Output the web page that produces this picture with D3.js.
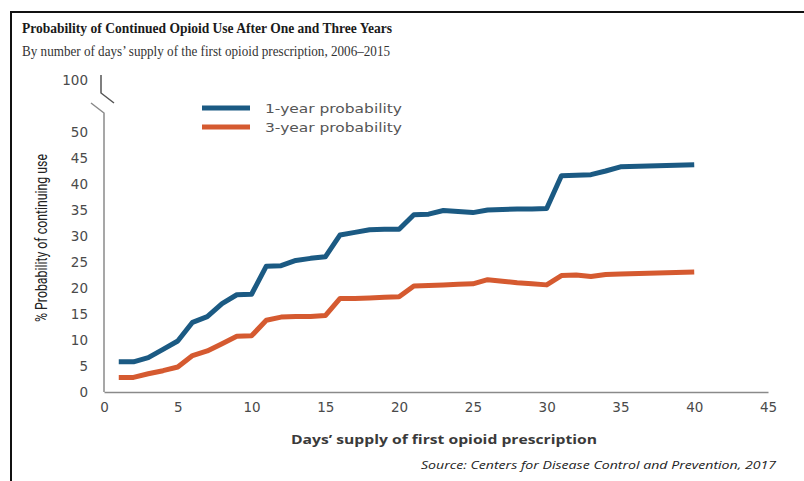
<!doctype html>
<html>
<head>
<meta charset="utf-8">
<script src="https://d3js.org/d3.v7.min.js"></script>
<style>
  body { margin: 0; background: #fff; }
  svg { display: block; }
</style>
</head>
<body>
<div id="chart"></div>
<script>
// days' supply of first prescription
const days = [1, 2, 3, 4, 5, 6, 7, 8, 9, 10, 11, 12, 13, 14, 15, 16, 17, 18, 19, 20,
  21, 22, 23, 24, 25, 26, 27, 28, 29, 30, 31, 32, 33, 34, 35, 40];
// % still using opioids after one year
const oneYear = [5.8, 5.8, 6.6, 8.2, 9.8, 13.4, 14.5, 17.0, 18.7, 18.8, 24.2, 24.3, 25.3, 25.7, 26.0, 30.2, 30.7, 31.2, 31.3, 31.3,
  34.1, 34.2, 34.9, 34.7, 34.5, 35.0, 35.1, 35.2, 35.2, 35.3, 41.6, 41.7, 41.8, 42.5, 43.3, 43.7];
// % still using opioids after three years
const threeYear = [2.8, 2.8, 3.5, 4.1, 4.8, 7.0, 7.9, 9.3, 10.7, 10.8, 13.8, 14.4, 14.5, 14.5, 14.7, 18.0, 18.0, 18.1, 18.2, 18.3,
  20.4, 20.5, 20.6, 20.7, 20.8, 21.6, 21.3, 21.0, 20.8, 20.6, 22.4, 22.5, 22.2, 22.6, 22.7, 23.1];
const seriesNames = ["1-year probability", "3-year probability"];
const xTicks = [0, 5, 10, 15, 20, 25, 30, 35, 40, 45];
const yTicks = [0, 5, 10, 15, 20, 25, 30, 35, 40, 45, 50];

const width = 804, height = 481;
const colors = ["#1b5a83", "#d55a30"];

const svg = d3.select("#chart").append("svg")
  .attr("width", width)
  .attr("height", height);

// frame (top and left edge only are visible)
svg.append("path")
  .attr("d", "M11,481 V12 H804")
  .attr("fill", "none")
  .attr("stroke", "#111")
  .attr("stroke-width", 2);

// titles
svg.append("text")
  .attr("x", 22).attr("y", 33)
  .attr("font-family", "'Liberation Serif', serif")
  .attr("font-weight", "bold")
  .attr("font-size", 14.5)
  .attr("textLength", 370)
  .attr("lengthAdjust", "spacingAndGlyphs")
  .attr("fill", "#1a1a1a")
  .text("Probability of Continued Opioid Use After One and Three Years");

svg.append("text")
  .attr("x", 22).attr("y", 56)
  .attr("font-family", "'Liberation Serif', serif")
  .attr("font-size", 14)
  .attr("textLength", 368)
  .attr("lengthAdjust", "spacingAndGlyphs")
  .attr("fill", "#333")
  .text("By number of days\u2019 supply of the first opioid prescription, 2006\u20132015");

// scales
const x = d3.scaleLinear().domain([0, 45]).range([104, 768]);
const y = d3.scaleLinear().domain([0, 50]).range([392, 132]);

const axisColor = "#8a8a8a";
const labelColor = "#4a4a4a";
const tickFont = "'DejaVu Sans', sans-serif";

// x axis
const xAxis = svg.append("g")
  .attr("transform", "translate(0," + y(0) + ")")
  .call(d3.axisBottom(x).tickValues(xTicks).tickSize(0).tickPadding(10));
xAxis.select(".domain").attr("stroke", axisColor).attr("stroke-width", 1.5);
xAxis.selectAll("text")
  .attr("font-family", tickFont)
  .attr("font-size", 13.5)
  .attr("fill", labelColor);

// y axis
const yAxis = svg.append("g")
  .attr("transform", "translate(" + x(0) + ",0)")
  .call(d3.axisLeft(y).tickValues(yTicks).tickSize(0).tickPadding(16));
yAxis.select(".domain").remove();
yAxis.selectAll("text")
  .attr("font-family", tickFont)
  .attr("font-size", 13.5)
  .attr("fill", labelColor);

// y axis line with the break up to 100
svg.append("path")
  .attr("d", "M" + x(0) + "," + y(0) + " V113 L91,103")
  .attr("fill", "none")
  .attr("stroke", axisColor)
  .attr("stroke-width", 1.5);
svg.append("path")
  .attr("d", "M101,75 V93 L114,103")
  .attr("fill", "none")
  .attr("stroke", "#555")
  .attr("stroke-width", 1.5);
svg.append("text")
  .attr("x", 88).attr("y", 85)
  .attr("text-anchor", "end")
  .attr("font-family", tickFont)
  .attr("font-size", 13.5)
  .attr("fill", labelColor)
  .text("100");

// axis titles
svg.append("text")
  .attr("transform", "translate(47,238) rotate(-90)")
  .attr("text-anchor", "middle")
  .attr("font-family", "'Liberation Sans Narrow', 'Roboto', sans-serif")
  .attr("font-size", 16)
  .attr("textLength", 168)
  .attr("lengthAdjust", "spacingAndGlyphs")
  .attr("fill", "#222")
  .text("% Probability of continuing use");

svg.append("text")
  .attr("x", 444).attr("y", 444)
  .attr("text-anchor", "middle")
  .attr("font-family", "'Open Sans', sans-serif")
  .attr("font-weight", "bold")
  .attr("font-size", 13)
  .attr("textLength", 306)
  .attr("lengthAdjust", "spacingAndGlyphs")
  .attr("fill", "#3a3a3a")
  .text("Days\u2019 supply of first opioid prescription");

svg.append("text")
  .attr("x", 776).attr("y", 469)
  .attr("text-anchor", "end")
  .attr("font-family", "'Open Sans', sans-serif")
  .attr("font-style", "italic")
  .attr("font-size", 11)
  .attr("textLength", 355)
  .attr("lengthAdjust", "spacingAndGlyphs")
  .attr("fill", "#222")
  .text("Source: Centers for Disease Control and Prevention, 2017");

// lines
const line = d3.line()
  .x(d => x(d[0]))
  .y(d => y(d[1]));

[oneYear, threeYear].forEach(function (vals, i) {
  svg.append("path")
    .datum(days.map((d, j) => [d, vals[j]]))
    .attr("d", line)
    .attr("fill", "none")
    .attr("stroke", colors[i])
    .attr("stroke-width", 5)
    .attr("stroke-linejoin", "round");
});

// legend
seriesNames.forEach(function (name, i) {
  const ly = 108 + i * 19;
  svg.append("line")
    .attr("x1", 202).attr("x2", 250)
    .attr("y1", ly).attr("y2", ly)
    .attr("stroke", colors[i])
    .attr("stroke-width", 5);
  svg.append("text")
    .attr("x", 265).attr("y", ly + 4.5)
    .attr("font-family", tickFont)
    .attr("font-size", 13)
    .attr("textLength", 137)
    .attr("lengthAdjust", "spacingAndGlyphs")
    .attr("fill", "#555")
    .text(name);
});
</script>
</body>
</html>
